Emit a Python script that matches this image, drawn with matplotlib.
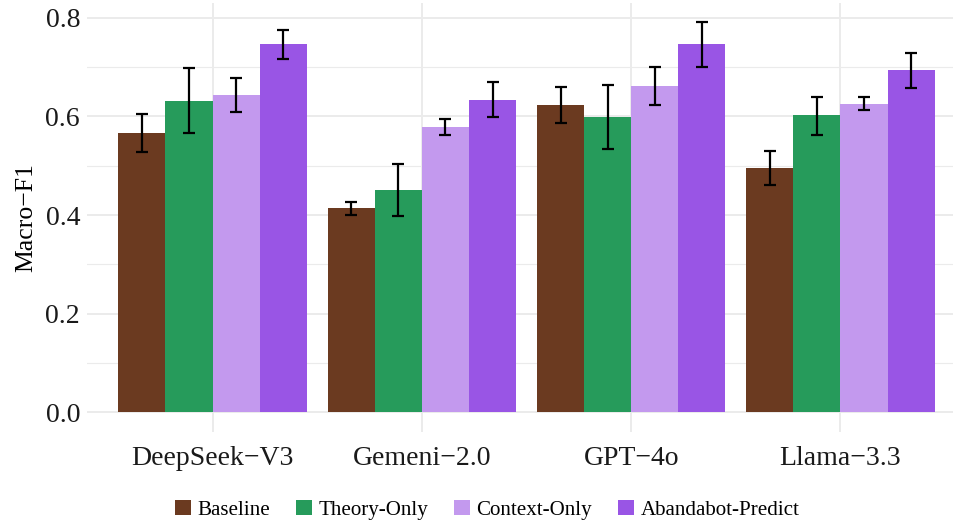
import matplotlib
matplotlib.use("Agg")
import matplotlib.pyplot as plt
import numpy as np
from matplotlib.patches import Patch

models = ["DeepSeek\u2212V3", "Gemeni\u22122.0", "GPT\u22124o", "Llama\u22123.3"]
methods = ["Baseline", "Theory-Only", "Context-Only", "Abandabot-Predict"]
colors = ["#6B3A20", "#269B5B", "#C399EE", "#9955E5"]

means = {
    "Baseline":          [0.566, 0.414, 0.623, 0.495],
    "Theory-Only":       [0.630, 0.450, 0.598, 0.602],
    "Context-Only":      [0.643, 0.578, 0.661, 0.624],
    "Abandabot-Predict": [0.746, 0.633, 0.746, 0.694],
}
lower = {
    "Baseline":          [0.528, 0.400, 0.587, 0.460],
    "Theory-Only":       [0.566, 0.398, 0.533, 0.563],
    "Context-Only":      [0.608, 0.562, 0.622, 0.612],
    "Abandabot-Predict": [0.716, 0.598, 0.699, 0.657],
}
upper = {
    "Baseline":          [0.604, 0.427, 0.659, 0.529],
    "Theory-Only":       [0.697, 0.504, 0.664, 0.640],
    "Context-Only":      [0.677, 0.595, 0.700, 0.639],
    "Abandabot-Predict": [0.774, 0.670, 0.791, 0.728],
}

plt.rcParams["font.family"] = ["Liberation Serif", "DejaVu Serif"]

fig = plt.figure(figsize=(9.54, 5.22), dpi=100)
W, H = 954, 522
left_px, right_px, top_px, bot_px = 87, 954, 2.5, 432
ax = fig.add_axes([left_px / W, 1 - bot_px / H, (right_px - left_px) / W, (bot_px - top_px) / H])

x = np.arange(1, len(models) + 1)
bw = 0.225
for i, m in enumerate(methods):
    pos = x + (i - 1.5) * bw
    vals = np.array(means[m])
    lo = vals - np.array(lower[m])
    hi = np.array(upper[m]) - vals
    ax.bar(pos, vals, width=bw, color=colors[i], zorder=2, linewidth=0)
    ax.errorbar(pos, vals, yerr=[lo, hi], fmt="none", ecolor="black",
                elinewidth=1.6, capsize=4, capthick=1.6, zorder=3)

unit_px = 209.3
ax.set_xlim(0.4, 0.4 + (right_px - left_px) / unit_px)
ax.set_ylim(-0.0396, 0.8305)
ax.set_xticks(x)
ax.set_xticklabels(models)
ax.set_yticks([0.0, 0.2, 0.4, 0.6, 0.8])
ax.set_yticklabels(["0.0", "0.2", "0.4", "0.6", "0.8"])
ax.set_yticks([0.1, 0.3, 0.5, 0.7], minor=True)
ax.grid(True, which="major", color="#EBEBEB", linewidth=1.4, zorder=0)
ax.grid(True, which="minor", axis="y", color="#EBEBEB", linewidth=0.8, zorder=0)
ax.set_axisbelow(True)
for s in ax.spines.values():
    s.set_visible(False)
ax.tick_params(axis="both", which="both", length=0, labelsize=20, colors="#1A1A1A")
ax.tick_params(axis="x", pad=10)
ax.tick_params(axis="y", pad=5)
ax.set_ylabel("Macro\u2212F1", fontsize=18.5, labelpad=6)

handles = [Patch(facecolor=c, edgecolor="none", label=m) for m, c in zip(methods, colors)]
fig.legend(handles=handles, loc="center", bbox_to_anchor=(487 / W, 1 - 510 / H), ncol=4,
           frameon=False, fontsize=15.1, handlelength=0.76, handleheight=0.76,
           handletextpad=0.3, columnspacing=1.25)

fig.savefig("out.png", dpi=100)
